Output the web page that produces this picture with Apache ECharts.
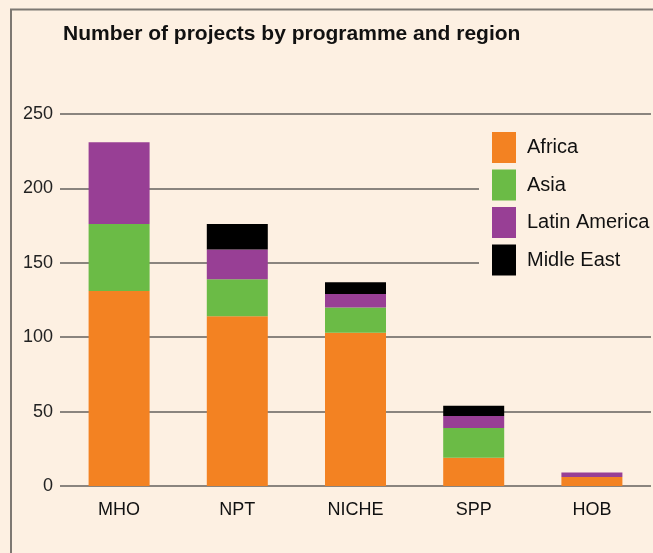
<!DOCTYPE html>
<html>
<head>
<meta charset="utf-8">
<script src="https://cdn.jsdelivr.net/npm/echarts@6/dist/echarts.min.js"></script>
<style>
html,body{margin:0;padding:0;background:#fdf0e2;}
#chart{width:653px;height:553px;}
</style>
</head>
<body>
<div id="chart"></div>
<script>
const categories = ["MHO", "NPT", "NICHE", "SPP", "HOB"];
const africa = [131, 114, 103, 19, 6];
const asia = [45, 25, 17, 20, 0];
const latinAmerica = [55, 20, 9, 8, 3];
const middleEast = [0, 17, 8, 7, 0];
const yTicks = [0, 50, 100, 150, 200, 250];

const FONT = '"Liberation Sans Narrow", "Liberation Sans", sans-serif';
const chart = echarts.init(document.getElementById('chart'), null, {renderer: 'canvas'});

function mk(name, data, color) {
  return {
    name: name, type: 'bar', stack: 'total', data: data, barWidth: 61,
    itemStyle: {color: color, borderWidth: 0},
    emphasis: {disabled: true}
  };
}

chart.setOption({
  backgroundColor: '#fdf0e2',
  animation: false,
  title: {
    text: 'Number of projects by programme and region',
    left: 58, top: 19,
    textStyle: {fontFamily: FONT, fontWeight: 'bold', fontSize: 21, color: '#111'}
  },
  graphic: [{
    type: 'polyline', z: 100,
    shape: {points: [[11, 560], [11, 9.5], [660, 9.5]]},
    style: {stroke: '#7d7872', lineWidth: 2, fill: null}
  }],
  grid: {left: 60, right: 2, top: 114, bottom: 67, containLabel: false},
  legend: {
    orient: 'vertical', left: 479, top: 124,
    backgroundColor: '#fdf0e2',
    padding: [8, 10, 8, 13],
    itemWidth: 24, itemHeight: 31, itemGap: 6.5,
    icon: 'rect',
    itemStyle: {borderWidth: 0},
    textStyle: {fontFamily: FONT, fontSize: 20, color: '#111', padding: [0, 0, 0, 6]},
    data: ['Africa', 'Asia', 'Latin America', 'Midle East']
  },
  xAxis: {
    type: 'category', data: categories,
    axisLine: {show: false}, axisTick: {show: false},
    axisLabel: {fontFamily: FONT, fontSize: 18, color: '#111', margin: 15}
  },
  yAxis: {
    type: 'value', min: yTicks[0], max: yTicks[yTicks.length - 1], interval: 50,
    axisLine: {show: false}, axisTick: {show: false},
    axisLabel: {fontFamily: FONT, fontSize: 18, color: '#222', margin: 7},
    splitLine: {lineStyle: {color: '#8a847e', width: 2}}
  },
  series: [
    mk('Africa', africa, '#f38222'),
    mk('Asia', asia, '#6bbb46'),
    mk('Latin America', latinAmerica, '#983f95'),
    mk('Midle East', middleEast, '#000000')
  ]
});
</script>
</body>
</html>
